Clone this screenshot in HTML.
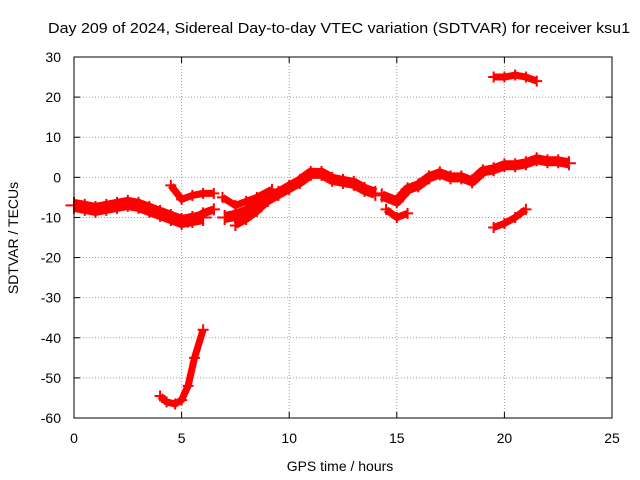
<!DOCTYPE html>
<html><head><meta charset="utf-8"><style>
body{margin:0;background:#fff}
svg{display:block;font-family:"Liberation Sans",sans-serif}
</style></head><body>
<svg id="chart" width="640" height="480" viewBox="0 0 640 480" xmlns="http://www.w3.org/2000/svg">
<rect width="640" height="480" fill="#fff"/>
<text x="339" y="33" font-size="15" text-anchor="middle" textLength="582" lengthAdjust="spacingAndGlyphs">Day 209 of 2024, Sidereal Day-to-day VTEC variation (SDTVAR) for receiver ksu1</text>
<g id="grid"></g>
<g id="ticks"></g>
<g id="marks"></g>
<rect x="74" y="57" width="538" height="361" fill="none" stroke="#000" stroke-width="1"/>
<text x="340" y="471" font-size="14" text-anchor="middle">GPS time / hours</text>
<text transform="translate(18,238) rotate(-90)" font-size="14" text-anchor="middle">SDTVAR / TECUs</text>
</svg>
<script>
const xTicks=[0,5,10,15,20,25];
const yTicks=[30,20,10,0,-10,-20,-30,-40,-50,-60];
const trackMainX=[0,0.5,1,1.5,2,2.5,3,3.5,4,4.5,5,5.5,6];
const trackMainY=[-7,-7.5,-8,-7.5,-7,-6.5,-7,-8,-9,-10,-11,-10.5,-10];
const trackUpperX=[4.5,5,5.5,6,6.5];
const trackUpperY=[-2,-5.5,-4.5,-4,-4];
const trackRiseX=[5.3,6,6.5];
const trackRiseY=[-11,-9,-8];
const trackMidX=[7,7.5,8,8.5,9,9.5,10,10.5,11,11.5,12,12.5,13,13.5,14];
const trackMidY=[-10,-9.5,-8.5,-7,-5.5,-4,-2.5,-1,1,1,-0.5,-1,-1.5,-3,-4];
const trackMidLowX=[7.5,8,8.5,9];
const trackMidLowY=[-12,-10.5,-8.5,-6];
const trackMidHighX=[6.9,7.5,8,8.5,9.2];
const trackMidHighY=[-5,-7,-6,-5,-3];
const trackLateX=[14.3,15,15.5,16,16.5,17,17.5,18,18.5,19,19.5,20,20.5,21,21.5,22,22.5,23];
const trackLateY=[-4.5,-6,-3,-2,0,1,0,0,-1,1.5,2,3,3,3.5,4.5,4,4,3.5];
const trackDipX=[14.5,15,15.5];
const trackDipY=[-8,-10,-9];
const trackTopX=[19.5,20,20.5,21,21.5];
const trackTopY=[25,25,25.5,25,24];
const trackLowX=[19.5,20,20.5,21];
const trackLowY=[-12.5,-11.5,-10,-8];
const trackDeepX=[4,4.3,4.7,5,5.3,5.6,6];
const trackDeepY=[-54.5,-56,-56.5,-55.5,-52,-45,-38];

const X0=74,X1=612,Y0=418,Y1=57;
const sx=v=>X0+(v-0)/(25-0)*(X1-X0);
const sy=v=>Y0-(v+60)/90*(Y0-Y1);
const NS='http://www.w3.org/2000/svg';
function mk(t,a,p){const e=document.createElementNS(NS,t);for(const k in a)e.setAttribute(k,a[k]);p.appendChild(e);return e;}
const grid=document.getElementById('grid'),ticks=document.getElementById('ticks'),marks=document.getElementById('marks');
xTicks.forEach(v=>{
 const x=sx(v);
 if(v>0&&v<25){const g=mk('line',{x1:x,x2:x,y1:Y0,y2:Y1,stroke:'#a0a0a0','stroke-dasharray':'1,2','stroke-width':1},grid);
 }
 const t1=mk('line',{x1:x,x2:x,y1:Y0,y2:Y0-6,stroke:'#000'},ticks);
 
 const t2=mk('line',{x1:x,x2:x,y1:Y1,y2:Y1+6,stroke:'#000'},ticks);
 
 const l=mk('text',{x:x,y:443,'font-size':14,'text-anchor':'middle'},ticks);l.textContent=v;
 
});
yTicks.forEach(v=>{
 const y=sy(v);
 if(v>-60&&v<30){const g=mk('line',{x1:X0,x2:X1,y1:y,y2:y,stroke:'#a0a0a0','stroke-dasharray':'1,2','stroke-width':1},grid);
 }
 const t1=mk('line',{x1:X0,x2:X0+6,y1:y,y2:y,stroke:'#000'},ticks);
 
 const t2=mk('line',{x1:X1,x2:X1-6,y1:y,y2:y,stroke:'#000'},ticks);
 
 const l=mk('text',{x:61,y:y+5,'font-size':14,'text-anchor':'end'},ticks);l.textContent=v;
 
});
const tracks=[[trackMainX,trackMainY,'track-main',13],[trackUpperX,trackUpperY,'track-upper',7],[trackRiseX,trackRiseY,'track-rise',8],
[trackMidX,trackMidY,'track-mid',11],[trackMidLowX,trackMidLowY,'track-mid-low',7],[trackMidHighX,trackMidHighY,'track-mid-high',7],
[trackLateX,trackLateY,'track-late',10],[trackDipX,trackDipY,'track-dip',7],[trackTopX,trackTopY,'track-top',7],
[trackLowX,trackLowY,'track-low',7],[trackDeepX,trackDeepY,'track-deep',7]];
tracks.forEach(([xs,ys,name,w])=>{
 const pts=xs.map((x,i)=>sx(x)+','+sy(ys[i])).join(' ');
 const pl=mk('polyline',{points:pts,fill:'none',stroke:'#ff0000','stroke-width':w,'stroke-linejoin':'round','stroke-linecap':'butt'},marks);
 
 xs.forEach((x,i)=>{
  const cx=sx(x),cy=sy(ys[i]),r=w/2+2;
  const p=mk('path',{d:`M${cx-r},${cy}H${cx+r}M${cx},${cy-r}V${cy+r}`,stroke:'#ff0000','stroke-width':2},marks);
  
 });
});
</script>
</body></html>
